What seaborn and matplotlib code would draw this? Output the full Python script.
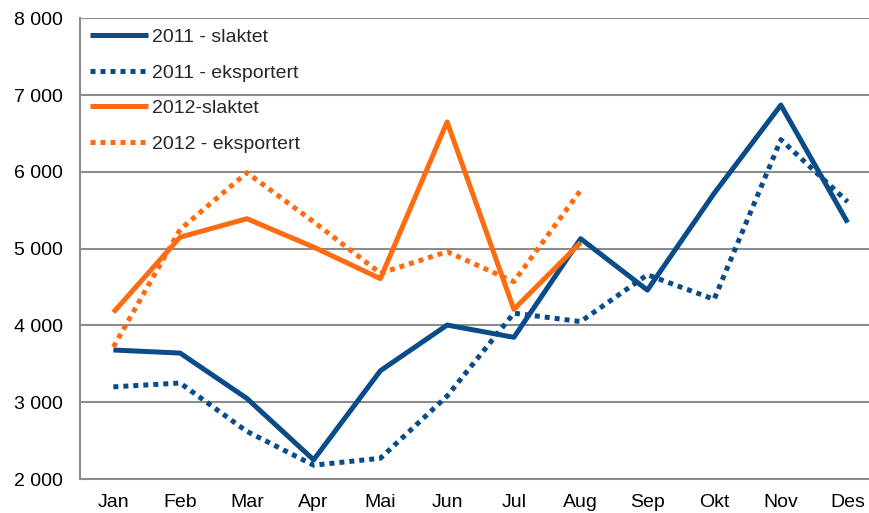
import matplotlib
matplotlib.use("Agg")
import matplotlib.pyplot as plt
import seaborn as sns
import pandas as pd
import numpy as np

months = ["Jan", "Feb", "Mar", "Apr", "Mai", "Jun", "Jul", "Aug", "Sep", "Okt", "Nov", "Des"]
slaktet_2011 = [3680, 3640, 3050, 2250, 3410, 4005, 3845, 5130, 4460, 5720, 6870, 5340]
eksport_2011 = [3200, 3250, 2620, 2180, 2270, 3080, 4160, 4050, 4660, 4340, 6420, 5610]
slaktet_2012 = [4170, 5150, 5390, 5020, 4610, 6650, 4210, 5080]
eksport_2012 = [3720, 5250, 5990, 5350, 4680, 4960, 4570, 5760]
yticks = [2000, 3000, 4000, 5000, 6000, 7000, 8000]

sns.set_theme(style="white")
plt.rcParams['font.family'] = ['Liberation Sans', 'DejaVu Sans']

BLUE = "#0A4C8A"
ORANGE = "#FF6B10"
GRID = "#8C8C8C"
FS = 14

fig = plt.figure(figsize=(8.7, 5.13), dpi=100)
ax = fig.add_axes([80/870, 1-479/513, (881-80)/870, (479-18.3)/513])

series = [
    ("2011 - slaktet", slaktet_2011, BLUE, "-"),
    ("2011 - eksportert", eksport_2011, BLUE, ":"),
    ("2012-slaktet", slaktet_2012, ORANGE, "-"),
    ("2012 - eksportert", eksport_2012, ORANGE, ":"),
]
for label, vals, col, ls in series:
    df = pd.DataFrame({"x": np.arange(len(vals)), "y": vals})
    sns.lineplot(data=df, x="x", y="y", ax=ax, color=col, label=label, sort=False)
    line = ax.get_lines()[-1]
    line.set_linewidth(3.6)
    if ls == ":":
        line.set_linestyle((0, (1, 1)))
        line.set_dash_capstyle("butt")
    line.set_solid_capstyle("butt")

ax.set_xlim(-0.5, 11.5)
ax.set_ylim(2000, 8000)
ax.set_yticks(yticks)
ax.set_yticklabels([f"{v:,}".replace(",", " ") for v in yticks])
ax.set_xticks(range(12))
ax.set_xticklabels(months)
ax.set_xticks(np.arange(-0.5, 12, 1), minor=True)
ax.tick_params(axis="x", which="major", length=0, pad=11, labelsize=FS, labelcolor="black")
ax.tick_params(axis="x", which="minor", length=4.5, width=1.5, color=GRID, direction="out")
ax.tick_params(axis="y", length=5, width=1.5, color=GRID, direction="out", pad=7, labelsize=FS, labelcolor="black")
ax.set_xlabel("")
ax.set_ylabel("")
ax.yaxis.grid(True, color=GRID, linewidth=1.5)
ax.set_axisbelow(True)
for s in ["top", "right"]:
    ax.spines[s].set_visible(False)
for s in ["left", "bottom"]:
    ax.spines[s].set_color(GRID)
    ax.spines[s].set_linewidth(1.5)

leg = ax.legend(loc="upper left", bbox_to_anchor=(0.0125, 0.978), frameon=False, fontsize=FS,
                handlelength=3.0, handletextpad=0.2, labelspacing=0.92, borderaxespad=0, borderpad=0)

fig.savefig("out.png", dpi=100)
